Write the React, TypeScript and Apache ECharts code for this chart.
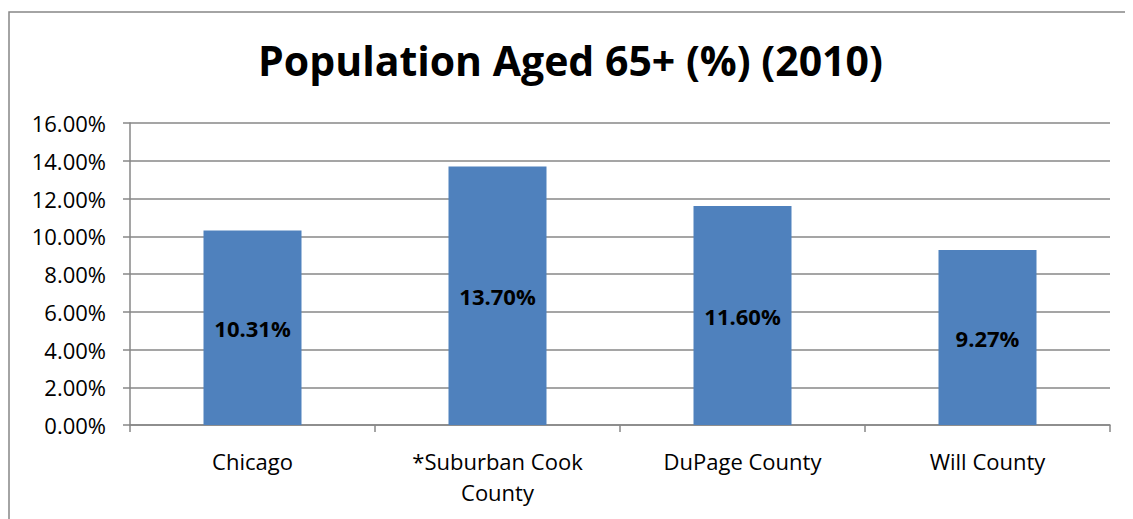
import React, { useEffect, useRef } from "react";
import * as echarts from "echarts";

const titleText = "Population Aged 65+ (%) (2010)";
const categories = ["Chicago", "*Suburban Cook\nCounty", "DuPage County", "Will County"];
const values = [10.31, 13.7, 11.6, 9.27];
const yMin = 0;
const yMax = 16;
const yInterval = 2;

const FONT = "Open Sans";

export default function App() {
  const ref = useRef<HTMLDivElement>(null);
  useEffect(() => {
    if (!ref.current) return;
    const chart = echarts.init(ref.current, null, { renderer: "svg" });
    chart.setOption({
      animation: false,
      backgroundColor: "#ffffff",
      title: {
        text: titleText,
        left: "center",
        top: 26,
        textStyle: { fontFamily: FONT, fontWeight: "bold", fontSize: 41, color: "#000" },
      },
      graphic: [
        {
          type: "rect",
          silent: true,
          shape: { x: 1, y: 4, width: 2000, height: 2000 },
          style: { fill: "none", stroke: "#878787", lineWidth: 1.5 },
        },
      ],
      grid: { left: 122, right: 23, top: 115, bottom: 94, containLabel: false },
      xAxis: {
        type: "category",
        data: categories,
        axisLine: { show: true, lineStyle: { color: "#878787", width: 1.5 } },
        axisTick: { show: true, length: 7, lineStyle: { color: "#878787", width: 1.5 } },
        axisLabel: { fontFamily: FONT, fontSize: 22, color: "#000", margin: 20, lineHeight: 31 },
      },
      yAxis: {
        type: "value",
        min: yMin,
        max: yMax,
        interval: yInterval,
        axisLine: { show: true, lineStyle: { color: "#878787", width: 1.5 } },
        axisTick: { show: true, length: 7, lineStyle: { color: "#878787", width: 1.5 } },
        splitLine: { show: true, lineStyle: { color: "#878787", width: 1.5 } },
        axisLabel: {
          fontFamily: FONT,
          fontSize: 22,
          color: "#000",
          margin: 24,
          formatter: (v: number) => v.toFixed(2) + "%",
        },
      },
      series: [
        {
          type: "bar",
          data: values,
          barWidth: "40%",
          itemStyle: { color: "#4F81BD" },
          label: {
            show: true,
            position: "inside",
            fontFamily: FONT,
            fontWeight: "bold",
            fontSize: 22,
            color: "#000",
            formatter: (p: any) => Number(p.value).toFixed(2) + "%",
          },
        },
      ],
    });
    return () => chart.dispose();
  }, []);
  return <div ref={ref} style={{ width: 1125, height: 511 }} />;
}
